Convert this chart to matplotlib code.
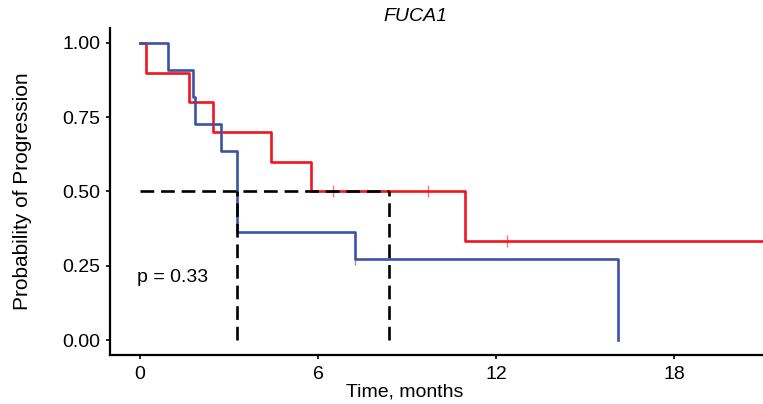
import matplotlib.pyplot as plt

RED = "#F0161E"
BLUE = "#3C53A4"

# Kaplan-Meier step data (time in months, probability)
red_times = [0, 0.2, 1.66, 2.47, 4.43, 5.77, 10.95, 21.5]
red_surv = [1.0, 0.9, 0.8, 0.7, 0.6, 0.5, 0.333, 0.333]
red_censor_times = [6.5, 9.7, 12.36]
red_censor_surv = [0.5, 0.5, 0.333]

blue_times = [0, 0.95, 1.8, 1.85, 2.72, 3.27, 7.26, 16.1]
blue_surv = [1.0, 0.909, 0.818, 0.727, 0.636, 0.364, 0.273, 0.0]
blue_censor_times = [7.26]
blue_censor_surv = [0.273]

median_blue = 3.27
median_red = 8.38

x_ticks = [0, 6, 12, 18]
y_ticks = [0.0, 0.25, 0.5, 0.75, 1.0]
y_tick_labels = ["0.00", "0.25", "0.50", "0.75", "1.00"]

FS = 14

plt.rcParams["font.family"] = ["Liberation Sans", "DejaVu Sans"]

fig = plt.figure(figsize=(7.63, 4.04), dpi=100)
ax = fig.add_axes([0.1442, 0.1213, 0.8558, 0.8094])

ax.step(red_times, red_surv, where="post", color=RED, lw=1.9, zorder=3)
ax.step(blue_times, blue_surv, where="post", color=BLUE, lw=1.9, zorder=3)
ax.plot(red_censor_times, red_censor_surv, ls="", marker="|", ms=8, mew=1.0, color=RED, alpha=0.6, zorder=4)
ax.plot(blue_censor_times, blue_censor_surv, ls="", marker="|", ms=8, mew=1.0, color=BLUE, alpha=0.6, zorder=2)

# median lines
dash = dict(color="black", lw=1.9, ls=(0, (5.2, 2.6)), zorder=5)
ax.plot([0, median_red], [0.5, 0.5], **dash)
ax.plot([median_blue, median_blue], [0, 0.5], **dash)
ax.plot([median_red, median_red], [0, 0.5], **dash)

ax.text(-0.1, 0.21, "p = 0.33", fontsize=FS, ha="left", va="center")

ax.set_xlim(-1.01, 21.0)
ax.set_ylim(-0.05, 1.05)
ax.set_xticks(x_ticks)
ax.set_yticks(y_ticks)
ax.set_yticklabels(y_tick_labels)

for s in ["top", "right"]:
    ax.spines[s].set_visible(False)
for s in ["left", "bottom"]:
    ax.spines[s].set_linewidth(1.6)
    ax.spines[s].set_color("black")
ax.tick_params(labelsize=FS, length=3, width=1.2, colors="black")
ax.tick_params(axis="x", pad=5)
ax.tick_params(axis="y", pad=4)

ax.set_title("FUCA1", fontsize=FS, style="italic", x=0.467, pad=5)
ax.set_xlabel("Time, months", fontsize=FS)
ax.xaxis.set_label_coords(0.452, -0.088)
ax.set_ylabel("Probability of Progression", fontsize=FS + 1)
ax.yaxis.set_label_coords(-0.119, 0.5)

fig.savefig("out.png", dpi=100)
